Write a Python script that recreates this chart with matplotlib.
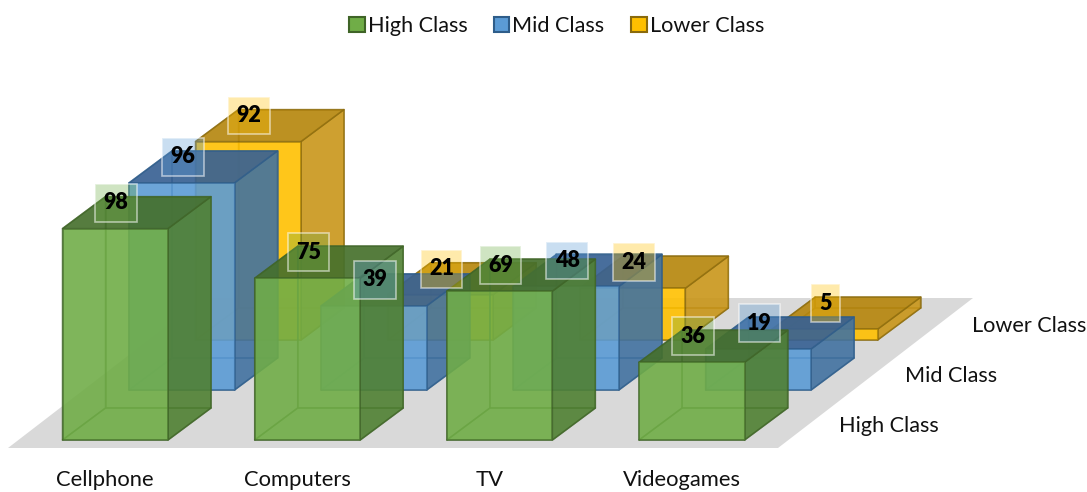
import matplotlib
matplotlib.use("Agg")
import matplotlib.pyplot as plt
from matplotlib.patches import Polygon, Patch

categories = ["Cellphone", "Computers", "TV", "Videogames"]
series_names = ["High Class", "Mid Class", "Lower Class"]
high_class = [98, 75, 69, 36]
mid_class = [96, 39, 48, 19]
lower_class = [92, 21, 24, 5]

front_colors = ["#70ad47", "#5b9bd5", "#ffc000"]
side_colors = ["#4f7f32", "#41719f", "#c8951a"]
top_colors = ["#456f2c", "#376092", "#b5860f"]
edge_colors = ["#3f6427", "#2e5d8a", "#8a6a0c"]
label_colors = ["#70ad47", "#5b9bd5", "#ffc000"]

# oblique projection (pixels)
X0, CAT_DX, SER_DX, BAR_W = 62.5, 192.2, 66.5, 105.5
Y0, SER_DY, UNIT = 440.0, 50.0, 2.157
DEPTH_X, DEPTH_Y = 43.0, 32.0


def proj(cat, ser, value, across, deep):
    x = X0 + cat * CAT_DX + ser * SER_DX + across * BAR_W + deep * DEPTH_X
    y = Y0 - ser * SER_DY - value * UNIT - deep * DEPTH_Y
    return x, y


plt.rcParams["font.family"] = ["Lato", "DejaVu Sans"]
fig = plt.figure(figsize=(10.87, 4.92), dpi=100)
ax = fig.add_axes([0, 0, 1, 1])
ax.set_xlim(0, 1087)
ax.set_ylim(492, 0)
ax.axis("off")

# floor
ax.add_patch(Polygon([(8, 448), (778, 448), (973, 298), (203, 298)],
                     closed=True, fc="#d9d9d9", ec="none", zorder=1))


def face(points, fc, alpha, ec, z):
    ax.add_patch(Polygon(points, closed=True, facecolor=matplotlib.colors.to_rgba(fc, alpha),
                         edgecolor=matplotlib.colors.to_rgba(ec, 0.7), lw=1.1,
                         joinstyle="round", zorder=z))


all_series = [high_class, mid_class, lower_class]
z = 2.0
for s in (2, 1, 0):
    vals = all_series[s]
    for c, v in enumerate(vals):
        fr, sd, tp, ed = front_colors[s], side_colors[s], top_colors[s], edge_colors[s]
        P = lambda val, a, d: proj(c, s, val, a, d)
        # inner faces
        face([P(0, 0, 1), P(0, 1, 1), P(v, 1, 1), P(v, 0, 1)], fr, 0.18, ed, z)
        face([P(0, 0, 0), P(0, 0, 1), P(v, 0, 1), P(v, 0, 0)], sd, 0.10, ed, z)
        face([P(0, 0, 0), P(0, 1, 0), P(0, 1, 1), P(0, 0, 1)], fr, 0.18, ed, z)
        # outer faces
        face([P(0, 1, 0), P(0, 1, 1), P(v, 1, 1), P(v, 1, 0)], sd, 0.88, ed, z + 0.01)
        face([P(v, 0, 0), P(v, 1, 0), P(v, 1, 1), P(v, 0, 1)], tp, 0.90, ed, z + 0.01)
        face([P(0, 0, 0), P(0, 1, 0), P(v, 1, 0), P(v, 0, 0)], fr, 0.88, ed, z + 0.02)
        z += 0.1

# data labels
for s in (2, 1, 0):
    for c, v in enumerate(all_series[s]):
        x, y = proj(c, s, v, 0.5, 0)
        ax.text(x + 1, y - 28, str(v), ha="center", va="center_baseline", fontsize=15.5,
                fontweight="heavy", color="black", zorder=20,
                bbox=dict(boxstyle="square,pad=0.39",
                          fc=matplotlib.colors.to_rgba(label_colors[s], 0.33),
                          ec=(1, 1, 1, 0.55), lw=1.2))

# category labels
for c, name in enumerate(categories):
    x, _ = proj(c, 0, 0, 0.5, 0)
    ax.text(x - 10, 480, name, ha="center", va="center", fontsize=15.8, color="#111111")

# depth-axis labels
for s, name in enumerate(series_names):
    x, y = proj(3, s, 0, 1, 0)
    ax.text(x + 94, y - 14.5, name, ha="left", va="center", fontsize=15.6, color="#111111")

handles = [Patch(facecolor=front_colors[i], edgecolor=edge_colors[i], lw=1.5, label=series_names[i])
           for i in range(3)]
ax.legend(handles=handles, ncol=3, loc="center", bbox_to_anchor=(556.5, 26), bbox_transform=ax.transData,
          frameon=False, fontsize=15.6, handlelength=0.72, handleheight=0.72,
          handletextpad=0.14, columnspacing=1.22, labelcolor="#111111")

fig.savefig("out.png", dpi=100)
